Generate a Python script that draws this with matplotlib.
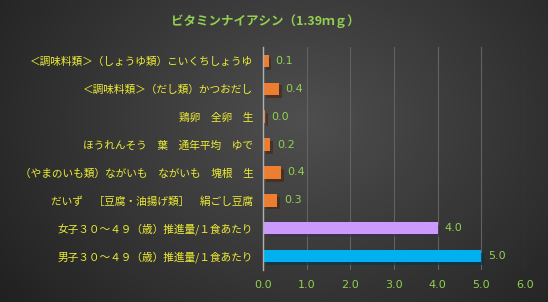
import numpy as np
import matplotlib
matplotlib.use("Agg")
import matplotlib.pyplot as plt
import matplotlib.patheffects as pe

plt.rcParams['font.family'] = ['Noto Sans CJK JP', 'DejaVu Sans']

# data (top to bottom as shown)
labels = ['＜調味料類＞（しょうゆ類）こいくちしょうゆ',
          '＜調味料類＞（だし類）かつおだし',
          '鶏卵　全卵　生',
          'ほうれんそう　葉　通年平均　ゆで',
          '（やまのいも類）ながいも　ながいも　塊根　生',
          'だいず　［豆腐・油揚げ類］　絹ごし豆腐',
          '女子３０～４９（歳）推進量/１食あたり',
          '男子３０～４９（歳）推進量/１食あたり']
values = [0.13, 0.36, 0.04, 0.17, 0.41, 0.33, 4.0, 5.0]
colors = ['#ed7d31'] * 6 + ['#cc99ff', '#00b0f0']
ticks = [0, 1, 2, 3, 4, 5, 6]
title = 'ビタミンナイアシン（1.39ｍｇ）'

green = '#92d050'
yellow = '#eded35'

fig = plt.figure(figsize=(5.48, 3.02), dpi=100)

# background radial gradient
bg = fig.add_axes([0, 0, 1, 1])
yy, xx = np.mgrid[0:302, 0:548]
r = np.sqrt(((xx - 300) / 330.0) ** 2 + ((yy - 120) / 260.0) ** 2)
v = np.clip(0.31 - 0.16 * r, 0.11, 0.31)
bg.imshow(np.dstack([v, v, v]), aspect='auto', extent=[0, 1, 0, 1])
bg.axis('off')

ax = fig.add_axes([0.48, 0.106, 0.478, 0.738])
ax.patch.set_alpha(0)
y = np.arange(len(labels))
bars = ax.barh(y, values, height=0.45, color=colors, zorder=3)
for b in bars:
    b.set_path_effects([pe.SimplePatchShadow(offset=(2, -2), alpha=0.6), pe.Normal()])

for yi, val in zip(y, values):
    ax.text(val + 0.15, yi, '%.1f' % round(val, 1), va='center', ha='left',
            color=green, fontsize=8, family='DejaVu Sans')

ax.set_xlim(0, 6)
ax.set_ylim(len(labels) - 0.5, -0.5)
ax.set_xticks(ticks)
ax.set_xticklabels(['%.1f' % t for t in ticks], color=green, fontsize=8, family='DejaVu Sans')
ax.set_yticks(y)
ax.set_yticklabels(labels, color=yellow, fontsize=7.7)
ax.tick_params(length=0, pad=7)
ax.xaxis.grid(True, color='#626262', linewidth=0.8, zorder=0)
for s in ['top', 'right', 'bottom']:
    ax.spines[s].set_visible(False)
ax.spines['left'].set_color('#b0b0b0')
ax.spines['left'].set_linewidth(1)
ax.spines['left'].set_zorder(4)

fig.text(0.484, 0.93, title, ha='center', va='center', color=green,
         fontsize=9, fontweight='bold')

fig.savefig('out.png', dpi=100)
